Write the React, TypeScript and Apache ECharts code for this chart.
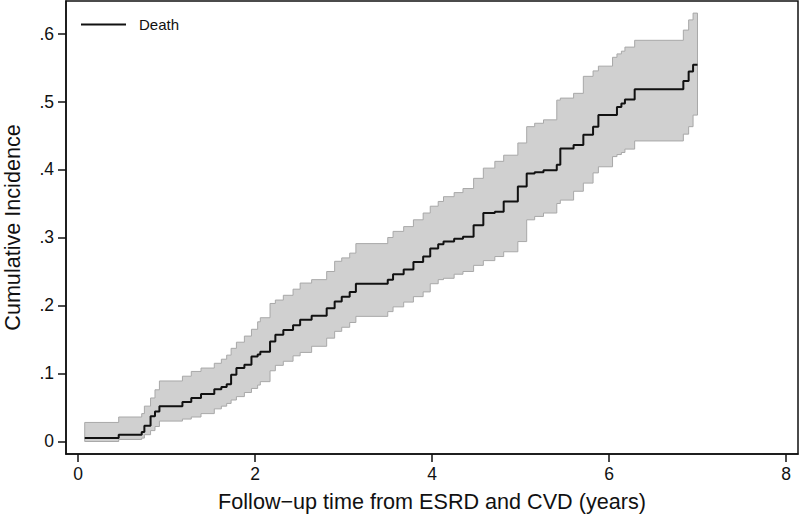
import React, { useEffect, useRef } from "react";
import * as echarts from "echarts";

// Follow-up time (years) at which the estimate / confidence band change
const times = [
  0.076, 0.46, 0.72, 0.75, 0.82, 0.87, 0.92, 1.18, 1.28, 1.39, 1.54, 1.62, 1.68,
  1.73, 1.79, 1.88, 1.96, 2.03, 2.06, 2.17, 2.23, 2.32, 2.43, 2.51, 2.64, 2.81,
  2.9, 2.98, 3.07, 3.14, 3.5, 3.56, 3.68, 3.79, 3.9, 3.98, 4.07, 4.13, 4.25,
  4.35, 4.47, 4.58, 4.71, 4.81, 4.97, 5.07, 5.16, 5.26, 5.41, 5.45, 5.6, 5.71,
  5.82, 5.88, 6.04, 6.09, 6.14, 6.18, 6.29, 6.84, 6.9, 6.95, 7.0,
];
// Cumulative incidence of death
const estimate = [
  0.005, 0.01, 0.014, 0.023, 0.037, 0.044, 0.052, 0.058, 0.064, 0.07, 0.077,
  0.08, 0.084, 0.098, 0.108, 0.113, 0.125, 0.128, 0.132, 0.147, 0.157, 0.164,
  0.171, 0.179, 0.185, 0.196, 0.206, 0.213, 0.22, 0.232, 0.238, 0.246, 0.253,
  0.264, 0.272, 0.284, 0.29, 0.294, 0.298, 0.301, 0.318, 0.336, 0.338, 0.353,
  0.375, 0.394, 0.396, 0.399, 0.407, 0.431, 0.436, 0.451, 0.463, 0.48, 0.48,
  0.492, 0.497, 0.503, 0.518, 0.53, 0.544, 0.554, 0.554,
];
// Lower 95% confidence limit
const lowerCI = [
  0.0, 0.003, 0.005, 0.01, 0.016, 0.022, 0.03, 0.033, 0.036, 0.041, 0.048,
  0.052, 0.056, 0.061, 0.066, 0.072, 0.078, 0.083, 0.088, 0.104, 0.112, 0.118,
  0.126, 0.131, 0.14, 0.152, 0.162, 0.168, 0.175, 0.184, 0.191, 0.198, 0.205,
  0.213, 0.22, 0.232, 0.238, 0.24, 0.246, 0.25, 0.259, 0.266, 0.272, 0.279,
  0.294, 0.326, 0.331, 0.336, 0.35, 0.355, 0.368, 0.38, 0.395, 0.404, 0.419,
  0.422, 0.425, 0.43, 0.442, 0.452, 0.463, 0.48, 0.48,
];
// Upper 95% confidence limit
const upperCI = [
  0.028, 0.036, 0.041, 0.052, 0.064, 0.076, 0.089, 0.096, 0.103, 0.108, 0.115,
  0.121, 0.127, 0.137, 0.146, 0.155, 0.165, 0.176, 0.182, 0.203, 0.208, 0.215,
  0.224, 0.233, 0.238, 0.25, 0.265, 0.27, 0.277, 0.291, 0.3, 0.309, 0.316,
  0.326, 0.336, 0.346, 0.353, 0.36, 0.366, 0.372, 0.387, 0.402, 0.412, 0.421,
  0.439, 0.463, 0.468, 0.473, 0.502, 0.505, 0.512, 0.537, 0.545, 0.552, 0.565,
  0.57, 0.574, 0.58, 0.59, 0.605, 0.62, 0.63, 0.63,
];

const xTicks = [0, 2, 4, 6, 8];
const yTicks = [0, 0.1, 0.2, 0.3, 0.4, 0.5, 0.6];
const yTickLabels = ["0", ".1", ".2", ".3", ".4", ".5", ".6"];

const FONT = "'Liberation Sans', Arial, Helvetica, sans-serif";

export default function App() {
  const ref = useRef<HTMLDivElement>(null);

  useEffect(() => {
    if (!ref.current) return;
    const chart = echarts.init(ref.current, null, { renderer: "svg" });

    const bandData = times.map((t, i) => [t, lowerCI[i], upperCI[i]]);
    const estData = times.map((t, i) => [t, estimate[i]]);

    const yLabel = (v: number) => {
      let best = 0;
      yTicks.forEach((tv, i) => {
        if (Math.abs(tv - v) < Math.abs(yTicks[best] - v)) best = i;
      });
      return yTickLabels[best];
    };

    const renderBand = (params: any, api: any) => {
      if (params.dataIndex !== 0) return null;
      const n = times.length;
      const pts: number[][] = [];
      for (let i = 0; i < n; i++) {
        pts.push(api.coord([times[i], upperCI[i]]));
        if (i < n - 1) pts.push(api.coord([times[i + 1], upperCI[i]]));
      }
      for (let i = n - 1; i >= 0; i--) {
        if (i < n - 1) pts.push(api.coord([times[i + 1], lowerCI[i]]));
        pts.push(api.coord([times[i], lowerCI[i]]));
      }
      return {
        type: "polygon",
        shape: { points: pts },
        style: { fill: "#d0d0d0", stroke: "#a8a8a8", lineWidth: 1 },
        silent: true,
      };
    };

    chart.setOption({
      animation: false,
      backgroundColor: "#ffffff",
      grid: {
        left: 66,
        right: 2,
        top: 1,
        bottom: 60,
        show: true,
        borderColor: "#111",
        borderWidth: 1.5,
        backgroundColor: "transparent",
        outerBoundsMode: "none",
        containLabel: false,
      },
      legend: {
        data: [{ name: "Death", icon: "rect" }],
        left: 81,
        top: 17,
        padding: 0,
        itemWidth: 45,
        itemHeight: 2,
        textStyle: {
          fontSize: 15,
          fontFamily: FONT,
          color: "#111",
          padding: [0, 0, 0, 8],
        },
      },
      xAxis: {
        type: "value",
        min: -0.1356,
        max: 8.1356,
        name: "Follow\u2212up time from ESRD and CVD (years)",
        nameLocation: "middle",
        nameGap: 36,
        nameTextStyle: { fontSize: 21.6, fontFamily: FONT, color: "#111" },
        axisLine: { show: true, onZero: false, lineStyle: { color: "#111", width: 1.5 } },
        axisTick: {
          show: true,
          length: 8,
          inside: false,
          customValues: xTicks,
          lineStyle: { color: "#111", width: 1.5 },
        },
        axisLabel: {
          customValues: xTicks,
          fontSize: 17.5,
          fontFamily: FONT,
          color: "#111",
          margin: 11,
          formatter: (v: number) => String(v),
        },
        splitLine: { show: false },
      },
      yAxis: {
        type: "value",
        min: -0.0184,
        max: 0.6478,
        name: "Cumulative Incidence",
        nameLocation: "middle",
        nameGap: 43,
        nameTextStyle: { fontSize: 21.6, fontFamily: FONT, color: "#111" },
        axisLine: { show: true, onZero: false, lineStyle: { color: "#111", width: 1.5 } },
        axisTick: {
          show: true,
          length: 8,
          inside: false,
          customValues: yTicks,
          lineStyle: { color: "#111", width: 1.5 },
        },
        axisLabel: {
          customValues: yTicks,
          fontSize: 17.5,
          fontFamily: FONT,
          color: "#111",
          margin: 12,
          formatter: yLabel,
        },
        splitLine: { show: false },
      },
      series: [
        {
          name: "95% CI",
          type: "custom",
          data: bandData,
          encode: { x: 0, y: [1, 2] },
          renderItem: renderBand,
          silent: true,
          z: 1,
        },
        {
          name: "Death",
          type: "line",
          step: "end",
          data: estData,
          symbol: "none",
          color: "#111",
          lineStyle: { color: "#111", width: 2 },
          z: 3,
        },
      ],
    });

    return () => chart.dispose();
  }, []);

  return (
    <div
      ref={ref}
      style={{ position: "fixed", left: 0, top: 0, width: 800, height: 514 }}
    />
  );
}
